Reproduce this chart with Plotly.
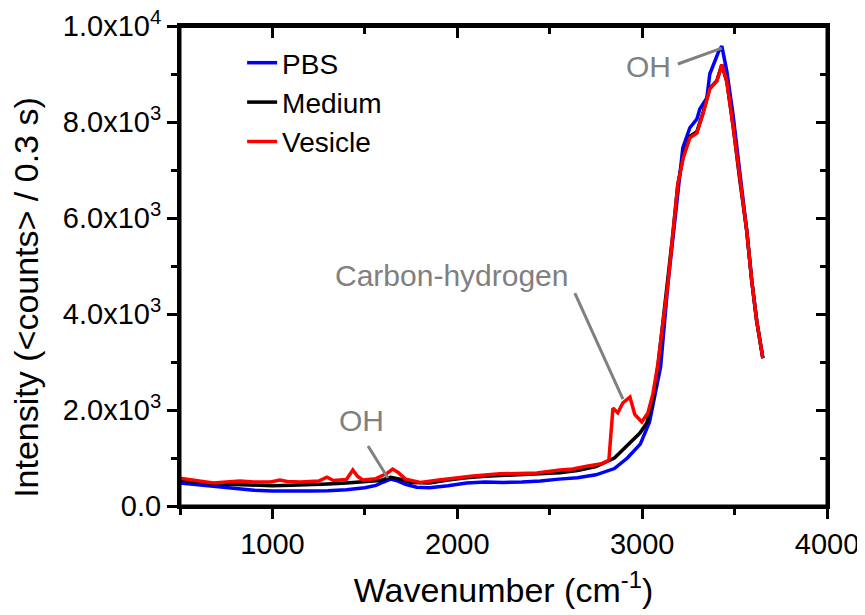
import plotly.graph_objects as go

# ---- data ----
pbs_x = [500, 600, 700, 800, 900, 1000, 1100, 1200, 1300, 1400, 1500, 1560, 1600, 1640, 1680,
         1720, 1780, 1850, 1950, 2050, 2150, 2250, 2350, 2450, 2550, 2650, 2750, 2850, 2920,
         2990, 3040, 3080, 3100, 3140, 3170, 3190, 3220, 3258, 3296, 3312, 3350, 3366, 3393,
         3415, 3431, 3458, 3491, 3529, 3545, 3566, 3593, 3620, 3653]
pbs_y = [480, 440, 400, 360, 330, 310, 305, 310, 320, 340, 380, 430, 500, 560, 520,
         450, 390, 380, 420, 480, 500, 490, 500, 520, 560, 590, 650, 780, 1000,
         1290, 1750, 2460, 2900, 4650, 5700, 6560, 7460, 7880, 8060, 8270, 8500, 9000, 9270,
         9480, 9580, 9060, 8170, 6980, 6350, 5730, 4690, 3850, 3080]

med_x = [500, 600, 700, 800, 900, 1000, 1100, 1200, 1300, 1400, 1500, 1580, 1640, 1690, 1750,
         1850, 1950, 2050, 2150, 2250, 2350, 2450, 2555, 2650, 2750, 2850, 2918, 2988, 3025,
         3058, 3085, 3112, 3139, 3166, 3193, 3222, 3258, 3296, 3329, 3366, 3404, 3431, 3458,
         3491, 3529, 3545, 3566, 3593, 3620, 3653]
med_y = [540, 500, 460, 450, 430, 420, 430, 440, 460, 480, 500, 530, 600, 560, 490,
         480, 540, 590, 620, 640, 650, 670, 690, 740, 820, 1000, 1250, 1520, 1730,
         2190, 2900, 3790, 4620, 5660, 6700, 7280, 7700, 7800, 8190, 8700, 8860, 9190, 8840,
         7940, 6770, 6350, 5730, 4690, 3850, 3080]

ves_x = [500, 600, 680, 750, 825, 900, 990, 1040, 1080, 1150, 1250, 1295, 1330, 1400, 1435,
         1460, 1490, 1560, 1620, 1650, 1680, 1720, 1800, 1900, 2000, 2085, 2230, 2430, 2555,
         2625, 2700, 2780, 2820, 2842, 2868, 2896, 2934, 2960, 2998, 3031, 3058, 3085, 3112,
         3139, 3166, 3193, 3222, 3258, 3296, 3329, 3366, 3404, 3431, 3458, 3491, 3529, 3545,
         3566, 3593, 3620, 3653]
ves_y = [580, 530, 480, 500, 520, 500, 500, 540, 510, 500, 520, 600, 530, 550, 750,
         620, 540, 570, 680, 770, 700, 560, 490, 540, 590, 625, 670, 690, 750,
         770, 830, 880, 950, 2040, 1940, 2150, 2270, 1910, 1750, 1940, 2330, 2950, 3790,
         4620, 5660, 6700, 7250, 7670, 7770, 8170, 8690, 8850, 9200, 8850, 7950, 6770, 6350,
         5730, 4690, 3850, 3080]

series_names = ["PBS", "Medium", "Vesicle"]
series_colors = ["#0000FF", "#000000", "#FF0000"]

x_ticks = [1000, 2000, 3000, 4000]
y_ticks = [0, 2000, 4000, 6000, 8000, 10000]
y_ticktext = ["0.0", "2.0x10<sup>3</sup>", "4.0x10<sup>3</sup>", "6.0x10<sup>3</sup>",
              "8.0x10<sup>3</sup>", "1.0x10<sup>4</sup>"]

FONT = "Liberation Sans, Arial, sans-serif"
GRAY = "#808080"

fig = go.Figure()
for xs, ys, name, col in zip([pbs_x, med_x, ves_x], [pbs_y, med_y, ves_y],
                             series_names, series_colors):
    fig.add_trace(go.Scatter(x=xs, y=ys, name=name, mode="lines",
                             line=dict(color=col, width=3.5)))

# dummy trace for the mirrored (top/right) axes with inward ticks
fig.add_trace(go.Scatter(x=[None], y=[None], xaxis="x2", yaxis="y2",
                         showlegend=False, hoverinfo="skip"))

# plot frame
fig.add_shape(type="rect", xref="paper", yref="paper", x0=0, y0=0, x1=1, y1=1,
              line=dict(color="black", width=3), layer="above")

# annotation lines (gray)
for (x0, y0, x1, y1) in [(1517, 1250, 1625, 583), (2636, 4437, 2896, 2229),
                         (3193, 9208, 3431, 9540)]:
    fig.add_shape(type="line", xref="x", yref="y", x0=x0, y0=y0, x1=x1, y1=y1,
                  line=dict(color=GRAY, width=3))

for (tx, ty, txt) in [(1484, 1771, "OH"), (1971, 4792, "Carbon-hydrogen"),
                      (3037, 9150, "OH")]:
    fig.add_annotation(x=tx, y=ty, xref="x", yref="y", text=txt, showarrow=False,
                       font=dict(family=FONT, size=30, color=GRAY))

# y-axis title placed as an annotation (left of the tick labels)
fig.add_annotation(text="Intensity (<counts> / 0.3 s)", xref="paper", yref="paper",
                   x=-0.237, y=0.435, xanchor="center", yanchor="middle", textangle=-90,
                   showarrow=False, font=dict(family=FONT, size=34, color="black"))

axis_common = dict(showline=True, linecolor="black", linewidth=3, showgrid=False,
                   zeroline=False, tickcolor="black", tickwidth=3, ticklen=10,
                   automargin=False, ticklabeloverflow="allow")

fig.update_layout(
    width=865, height=615,
    margin=dict(l=172, r=46, t=18, b=117),
    paper_bgcolor="white", plot_bgcolor="white",
    font=dict(family=FONT, size=29, color="black"),
    showlegend=True,
    legend=dict(x=0.096, y=0.975, xanchor="left", yanchor="top",
                bgcolor="rgba(0,0,0,0)", font=dict(size=28), tracegroupgap=0),
    xaxis=dict(range=[500, 4000], tickvals=x_ticks, ticks="outside", mirror=True,
               minor=dict(dtick=500, tick0=0, ticks="outside", ticklen=6,
                          tickwidth=3, tickcolor="black"),
               title=dict(text="Wavenumber (cm<sup>-1</sup>)", font=dict(size=34),
                          standoff=20),
               tickfont=dict(size=29), **axis_common),
    yaxis=dict(range=[0, 10000], tickvals=y_ticks, ticktext=y_ticktext, ticks="outside",
               mirror=True,
               minor=dict(dtick=1000, tick0=0, ticks="outside", ticklen=6,
                          tickwidth=3, tickcolor="black"),
               tickfont=dict(size=29), **axis_common),
    xaxis2=dict(range=[500, 4000], overlaying="x", side="top", anchor="free", position=1.0,
                tickvals=x_ticks, ticks="inside", showticklabels=False,
                minor=dict(dtick=500, tick0=0, ticks="inside", ticklen=6,
                           tickwidth=3, tickcolor="black"),
                **axis_common),
    yaxis2=dict(range=[0, 10000], overlaying="y", side="right", anchor="free", position=1.0,
                tickvals=y_ticks, ticks="inside", showticklabels=False,
                minor=dict(dtick=1000, tick0=0, ticks="inside", ticklen=6,
                           tickwidth=3, tickcolor="black"),
                **axis_common),
)

fig.write_html("out.html")
